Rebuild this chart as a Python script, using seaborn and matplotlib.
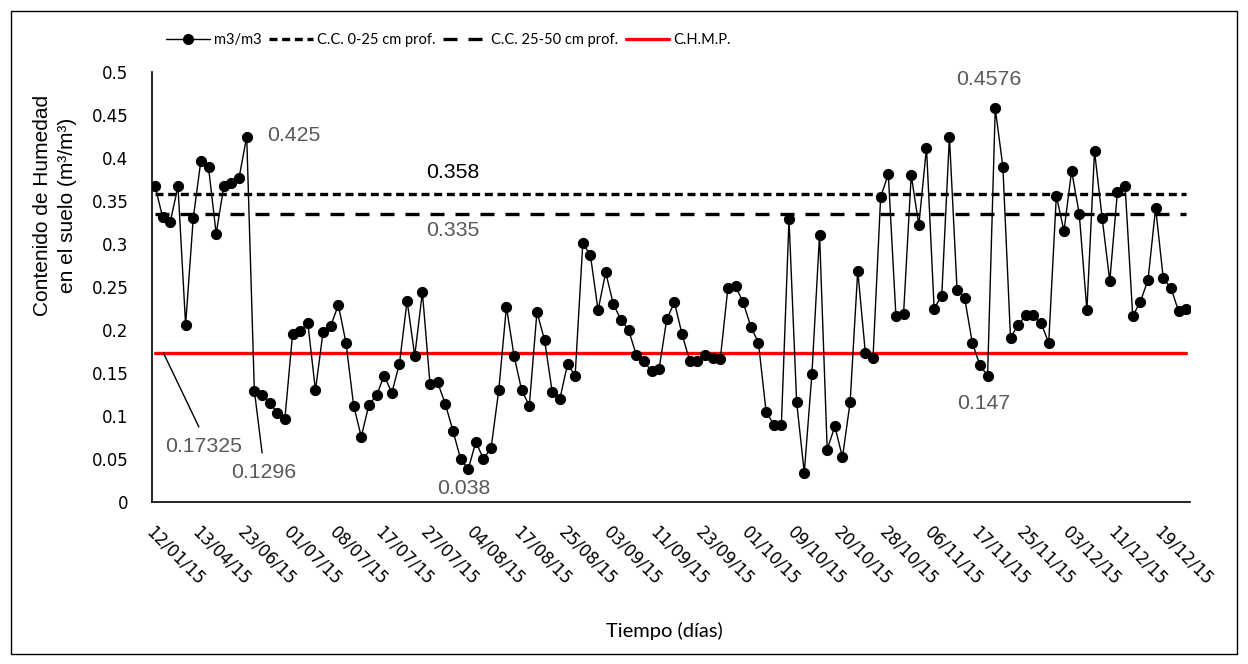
import numpy as np
import pandas as pd
import matplotlib
matplotlib.use('Agg')
import matplotlib.pyplot as plt
import seaborn as sns
from matplotlib.lines import Line2D
from matplotlib.patches import Rectangle

# Fechas mostradas en el eje x (una cada 6 lecturas)
fechas = ['12/01/15', '13/04/15', '23/06/15', '01/07/15', '08/07/15', '17/07/15',
          '27/07/15', '04/08/15', '17/08/15', '25/08/15', '03/09/15', '11/09/15',
          '23/09/15', '01/10/15', '09/10/15', '20/10/15', '28/10/15', '06/11/15',
          '17/11/15', '25/11/15', '03/12/15', '11/12/15', '19/12/15']

# Contenido de humedad (m3/m3)
humedad = [0.367, 0.331, 0.326, 0.367, 0.206, 0.330, 0.397, 0.389, 0.312, 0.367,
           0.371, 0.377, 0.425, 0.1296, 0.125, 0.115, 0.104, 0.097, 0.195, 0.199,
           0.208, 0.130, 0.198, 0.205, 0.229, 0.185, 0.112, 0.076, 0.113, 0.124,
           0.147, 0.127, 0.161, 0.234, 0.170, 0.244, 0.137, 0.139, 0.114, 0.083,
           0.050, 0.038, 0.070, 0.050, 0.063, 0.130, 0.227, 0.170, 0.130, 0.112,
           0.221, 0.188, 0.128, 0.120, 0.160, 0.147, 0.301, 0.287, 0.223, 0.267,
           0.230, 0.212, 0.200, 0.171, 0.164, 0.152, 0.155, 0.213, 0.232, 0.195,
           0.164, 0.164, 0.171, 0.167, 0.166, 0.249, 0.251, 0.232, 0.204, 0.185,
           0.105, 0.090, 0.090, 0.329, 0.116, 0.034, 0.149, 0.311, 0.061, 0.088,
           0.052, 0.116, 0.269, 0.173, 0.168, 0.355, 0.381, 0.216, 0.219, 0.380,
           0.322, 0.412, 0.225, 0.240, 0.425, 0.247, 0.237, 0.185, 0.159, 0.147,
           0.4576, 0.390, 0.191, 0.206, 0.217, 0.218, 0.208, 0.185, 0.356, 0.315,
           0.385, 0.335, 0.223, 0.408, 0.330, 0.257, 0.361, 0.368, 0.216, 0.233,
           0.258, 0.342, 0.260, 0.249, 0.222, 0.224]

cc_0_25 = 0.358    # capacidad de campo 0-25 cm
cc_25_50 = 0.335   # capacidad de campo 25-50 cm
chmp = 0.17325     # C.H.M.P.

sns.set_style('white')
plt.rcParams['font.family'] = ['DejaVu Sans']
plt.rcParams['text.color'] = 'black'
plt.rcParams['xtick.color'] = 'black'
plt.rcParams['ytick.color'] = 'black'
plt.rcParams['axes.labelcolor'] = 'black'
arial = ['Liberation Sans', 'DejaVu Sans']
calibri = ['Lato', 'DejaVu Sans']
gris = '#595959'

n = len(humedad)
dias = np.arange(n)
df = pd.DataFrame({'dia': dias, 'humedad': humedad,
                   'cc1': [cc_0_25] * n, 'cc2': [cc_25_50] * n, 'chmp': [chmp] * n})

fig = plt.figure(figsize=(12.48, 6.64), dpi=100)
ax = fig.add_axes([152 / 1248, 1 - 502 / 664, 1038 / 1248, 430 / 664])

sns.lineplot(data=df, x='dia', y='chmp', ax=ax, color='red', lw=2.4, zorder=2)
sns.lineplot(data=df, x='dia', y='cc1', ax=ax, color='black', lw=2.4,
             linestyle=(0, (2.4, 1.4)), zorder=2)
sns.lineplot(data=df, x='dia', y='cc2', ax=ax, color='black', lw=2.4,
             linestyle=(0, (4.2, 3.3)), zorder=2)
sns.lineplot(data=df, x='dia', y='humedad', ax=ax, color='black', lw=1,
             marker='o', markersize=7.3, markeredgecolor='black', zorder=3)
if ax.get_legend() is not None:
    ax.get_legend().remove()

ax.set_xlim(-0.4, n - 0.5)
ax.set_ylim(0, 0.5)
yt = np.round(np.arange(0, 0.501, 0.05), 2)
ax.set_yticks(yt)
ax.set_yticklabels(['0' if v == 0 else f'{v:g}' for v in yt], fontsize=12)
ax.set_xticks(dias[::6])
ax.set_xticklabels(fechas, rotation=-45, ha='left', va='top',
                   rotation_mode='anchor', fontsize=12)
ax.tick_params(axis='both', length=0)
ax.tick_params(axis='y', pad=17)
ax.tick_params(axis='x', pad=15)
for s in ['top', 'right']:
    ax.spines[s].set_visible(False)
for s in ['left', 'bottom']:
    ax.spines[s].set_color('black')
    ax.spines[s].set_linewidth(1.2)

ax.set_ylabel('Contenido de Humedad\nen el suelo (m³/m³)', fontsize=15,
              family=arial, linespacing=1.45)
ax.yaxis.set_label_coords(-0.072, 0.69)
ax.set_xlabel('Tiempo (días)', fontsize=14.5, family=calibri)
ax.xaxis.set_label_coords(0.494, -0.279)

# Etiquetas de datos
def etiqueta(texto, x, y, dx, dy, color=gris, linea=False):
    props = None
    if linea:
        props = dict(arrowstyle='-', color='black', lw=1, shrinkA=5, shrinkB=0,
                     relpos=(0.5, 1))
    ax.annotate(texto, xy=(x, y), xytext=(dx, dy), textcoords='offset pixels',
                ha='center', va='center', fontsize=15.3, color=color,
                family=arial, arrowprops=props, zorder=4)

etiqueta('0.425', 12, 0.425, 47, 1)
etiqueta('0.4576', 110, 0.4576, -6, 29)
etiqueta('0.147', 109, 0.147, -4, -28)
etiqueta('0.038', 41, 0.038, -4, -19)
etiqueta('0.358', 39, cc_0_25, 0, 22, color='black')
etiqueta('0.335', 39, cc_25_50, 0, -17)
etiqueta('0.17325', 1.1, chmp, 40, -93, linea=True)
etiqueta('0.1296', 13, 0.1296, 9, -82, linea=True)

handles = [
    Line2D([], [], color='black', lw=1, marker='o', markersize=7),
    Line2D([], [], color='black', lw=2.4, linestyle=(0, (2.4, 1.4))),
    Line2D([], [], color='black', lw=2.4, linestyle=(0, (4.2, 3.3))),
    Line2D([], [], color='red', lw=2.4),
]
labels = ['m3/m3', 'C.C. 0-25 cm prof.', 'C.C. 25-50 cm prof.', 'C.H.M.P.']
fig.legend(handles, labels, loc='center left', bbox_to_anchor=(166 / 1248, 1 - 40 / 664),
           ncol=4, frameon=False, prop={'family': calibri, 'size': 10.5},
           handlelength=3.0, handletextpad=0.3, columnspacing=0.5,
           borderpad=0, borderaxespad=0)

# Marco exterior
fig.add_artist(Rectangle((11 / 1248, 10 / 664), 1226 / 1248, 643 / 664,
                         transform=fig.transFigure, fill=False, ec='black', lw=1))

fig.savefig('out.png', dpi=100)
